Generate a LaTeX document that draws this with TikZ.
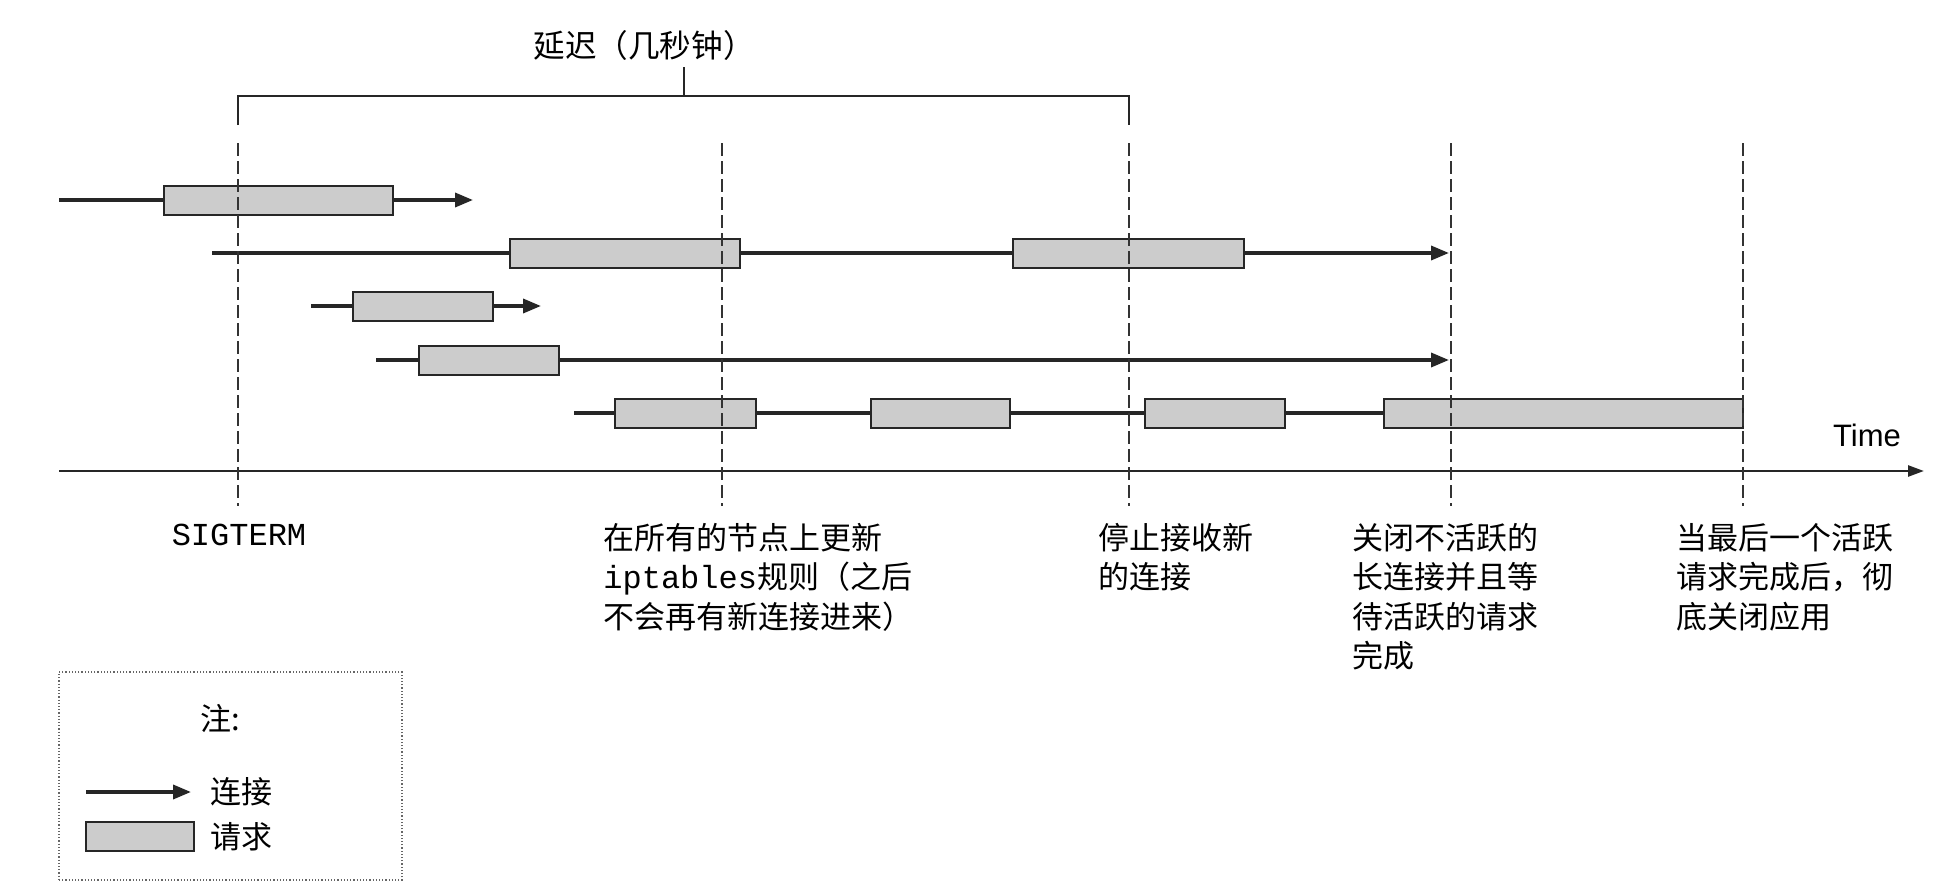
\documentclass[tikz,border=0pt]{standalone}
\usepackage{fontspec}
\setmainfont{Noto Sans CJK SC}
\setsansfont{Liberation Sans}
\setmonofont{Liberation Mono}
\usetikzlibrary{arrows.meta}
\begin{document}
\begin{tikzpicture}[x=0.5pt,y=-0.5pt,
  conn/.style={line width=1.8pt, draw=black!85},
  connarrow/.style={conn, -{Triangle[length=9pt,width=7pt]}},
  req/.style={draw=black!85, line width=1pt, fill=black!20, inner sep=0pt, minimum height=14.5pt},
  marker/.style={line width=0.8pt, draw=black!80, dash pattern=on 6.5pt off 2.5pt},
  bracketline/.style={line width=1pt, draw=black!85},
  cjk/.style={font=\fontsize{15.5}{19.75}\selectfont},
  lbl/.style={cjk, align=left, anchor=base west, inner sep=0pt},
]
\useasboundingbox (0,0) rectangle (1956,894);

% dashed time markers
\foreach \n/\x in {m1/238, m2/722, m3/1129, m4/1451, m5/1743} {
  \coordinate (\n t) at (\x,143);
  \coordinate (\n b) at (\x,506);
}

% bracket for the delay
\coordinate (bl) at (238,125);
\coordinate (br) at (1129,125);
\coordinate (blt) at (238,96);
\coordinate (brt) at (1129,96);
\coordinate (bm) at (684,96);
\coordinate (bmt) at (684,67);
\node[font=\fontsize{15.8}{18}\selectfont] (title) at (644,45) {延迟（几秒钟）};
\draw[bracketline] (bl) -- (blt) -- (brt) -- (br);
\draw[bracketline] (bm) -- (bmt);

% time axis
\coordinate (t0) at (59,471);
\coordinate (t1) at (1924,471);
\draw[line width=1.3pt, draw=black!85, -{Triangle[length=8pt,width=5.5pt]}] (t0) -- (t1);
\node[font=\sffamily\fontsize{15.5}{18}\selectfont] (time) at (1867,435) {Time};

% row 1
\coordinate (r1s) at (59,200);
\coordinate (r1e) at (473,200);
\node[req, minimum width=114.5pt] (r1b) at (278.5,200) {};
\draw[conn] (r1s) -- (r1b.west);
\draw[connarrow] (r1b.east) -- (r1e);

% row 2
\coordinate (r2s) at (212,253);
\coordinate (r2e) at (1449,253);
\node[req, minimum width=115pt] (r2b1) at (625,253) {};
\node[req, minimum width=115.5pt] (r2b2) at (1128.5,253) {};
\draw[conn] (r2s) -- (r2b1.west);
\draw[conn] (r2b1.east) -- (r2b2.west);
\draw[connarrow] (r2b2.east) -- (r2e);

% row 3
\coordinate (r3s) at (311,306);
\coordinate (r3e) at (541,306);
\node[req, minimum width=70pt] (r3b) at (423,306) {};
\draw[conn] (r3s) -- (r3b.west);
\draw[connarrow] (r3b.east) -- (r3e);

% row 4
\coordinate (r4s) at (376,360);
\coordinate (r4e) at (1449,360);
\node[req, minimum width=70pt] (r4b) at (489,360) {};
\draw[conn] (r4s) -- (r4b.west);
\draw[connarrow] (r4b.east) -- (r4e);

% row 5
\coordinate (r5s) at (574,413);
\node[req, minimum width=70.5pt] (r5b1) at (685.5,413) {};
\node[req, minimum width=69.5pt] (r5b2) at (940.5,413) {};
\node[req, minimum width=70pt] (r5b3) at (1215,413) {};
\node[req, minimum width=179.5pt] (r5b4) at (1563.5,413) {};
\draw[conn] (r5s) -- (r5b1.west);
\draw[conn] (r5b1.east) -- (r5b2.west);
\draw[conn] (r5b2.east) -- (r5b3.west);
\draw[conn] (r5b3.east) -- (r5b4.west);

% dashed markers on top
\foreach \n in {m1,m2,m3,m4,m5} {
  \draw[marker] (\n t) -- (\n b);
}

% labels (anchor = baseline of the last line)
\node[font=\ttfamily\fontsize{16}{20}\selectfont] (sig) at (239,535) {SIGTERM};
\node[lbl] (lab2) at (603,628) {在所有的节点上更新\\{\ttfamily\fontsize{16}{19.75}\selectfont iptables}规则（之后\\不会再有新连接进来）};
\node[lbl] (lab3) at (1098,588.5) {停止接收新\\的连接};
\node[lbl] (lab4) at (1352,667.5) {关闭不活跃的\\长连接并且等\\待活跃的请求\\完成};
\node[lbl] (lab5) at (1676,628) {当最后一个活跃\\请求完成后，彻\\底关闭应用};

% legend
\node[draw=black!60, densely dotted, line width=0.6pt, minimum width=171.5pt, minimum height=104pt, inner sep=0pt] (legend) at (230.5,776) {};
\node[cjk] (note) at (220,718) {注:};
\coordinate (la0) at (86,792);
\coordinate (la1) at (191,792);
\draw[connarrow] (la0) -- (la1);
\node[cjk, anchor=west, inner sep=0pt] (lconn) at (210,792) {连接};
\node[req, minimum width=54pt] (lreq) at (140,836.5) {};
\node[cjk, anchor=west, inner sep=0pt] (lreqt) at (210,837) {请求};
\end{tikzpicture}
\end{document}
